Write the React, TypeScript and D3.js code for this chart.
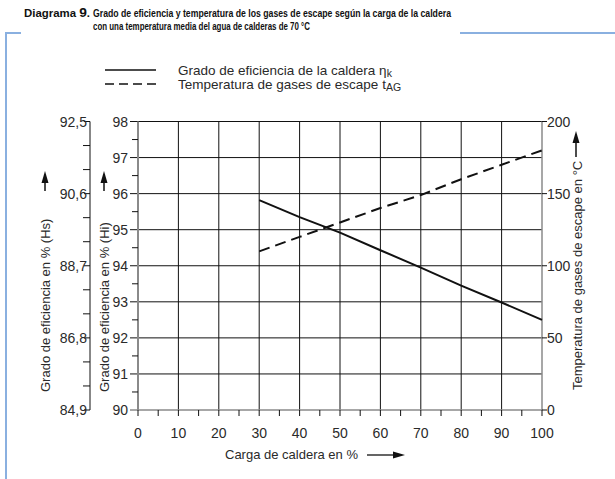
import React from "react";
import * as d3 from "d3";

const loadTicks = [0, 10, 20, 30, 40, 50, 60, 70, 80, 90, 100];
const hiTicks = [90, 91, 92, 93, 94, 95, 96, 97, 98];
const hsTickLabels = ["84,9", "86,8", "88,7", "90,6", "92,5"];
const hsTickValues = [84.9, 86.8, 88.7, 90.6, 92.5];
const tempTicks = [0, 50, 100, 150, 200];

const loads = [30, 40, 50, 60, 70, 80, 90, 100];
const efficiency = [95.82, 95.35, 94.92, 94.43, 93.95, 93.45, 92.98, 92.5];
const gasTemp = [110, 120, 130, 140, 149, 160, 170, 180];

const titleLine1a = "Diagrama 9.";
const titleLine1b = "Grado de eficiencia y temperatura de los gases de escape según la carga de la caldera";
const titleLine2 = "con una temperatura media del agua de calderas de 70 °C";

export default function App() {
  const W = 615, H = 479;
  const x0 = 138, x1 = 542, yTop = 121.5, yBot = 410;
  const x = d3.scaleLinear().domain([0, 100]).range([x0, x1]);
  const yHi = d3.scaleLinear().domain([90, 98]).range([yBot, yTop]);
  const yHs = d3.scaleLinear().domain([84.9, 92.5]).range([yBot, yTop]);
  const yT = d3.scaleLinear().domain([0, 200]).range([yBot, yTop]);

  const effLine = d3.line<number>().x((d, i) => x(loads[i])).y((d) => yHi(d))(efficiency) || "";
  const tempLine = d3.line<number>().x((d, i) => x(loads[i])).y((d) => yT(d))(gasTemp) || "";

  const font = "'Liberation Sans', Arial, Helvetica, sans-serif";
  const txt = "#2a2a2a";
  const frame = "#8ab0e0";
  const axisGrey = "#8a8a8a";

  const minorX = d3.range(5, 100, 10);
  const minorHi = d3.range(90.5, 98, 1);
  const hsStep = 1.9 / 3;
  const hsMinor = d3.range(0, 13).map((k) => 84.9 + k * hsStep).filter((_, k) => k % 3 !== 0);

  const axOuter = 90;
  const tickFs = 14;

  return (
    <svg width={W} height={H} style={{ position: "absolute", left: 0, top: 0, background: "#fff" }} fontFamily={font}>
      {/* frame */}
      <path d={`M21,33 H6 V479`} fill="none" stroke={frame} strokeWidth={2} />
      <path d={`M460,33 H615`} fill="none" stroke={frame} strokeWidth={2} />

      {/* title */}
      <text x={24} y={17} fontSize={10} fontWeight="bold" fill="#111" textLength={66} lengthAdjust="spacingAndGlyphs">
        Diagrama <tspan fontSize={12}>9</tspan>.
      </text>
      <text x={93} y={17} fontSize={10} fontWeight="bold" fill="#111" textLength={358} lengthAdjust="spacingAndGlyphs">
        {titleLine1b}
      </text>
      <text x={93} y={30} fontSize={10} fontWeight="bold" fill="#111" textLength={217} lengthAdjust="spacingAndGlyphs">
        {titleLine2}
      </text>

      {/* legend */}
      <line x1={105} x2={156} y1={70} y2={70} stroke="#111" strokeWidth={1.3} />
      <line x1={105} x2={156} y1={84} y2={84} stroke="#111" strokeWidth={1.3} strokeDasharray="9,5" />
      <text x={178} y={75} fontSize={13.5} fill={txt}>
        Grado de eficiencia de la caldera η<tspan fontSize={10.5} dy={2}>k</tspan>
      </text>
      <text x={178} y={89} fontSize={13.5} fill={txt}>
        Temperatura de gases de escape t<tspan fontSize={10.5} dy={2}>AG</tspan>
      </text>

      {/* grid */}
      {loadTicks.slice(1, -1).map((t) => (
        <line key={"gx" + t} x1={x(t)} x2={x(t)} y1={yTop} y2={yBot} stroke="#111" strokeWidth={1} />
      ))}
      {hiTicks.slice(1).map((t) => (
        <line key={"gy" + t} x1={x0 - 8} x2={x1} y1={yHi(t)} y2={yHi(t)} stroke="#111" strokeWidth={1} />
      ))}
      {/* plot frame left/bottom/right */}
      <line x1={x0} x2={x0} y1={yTop} y2={yBot} stroke={axisGrey} strokeWidth={2} />
      <line x1={x0 - 8} x2={x1} y1={yBot} y2={yBot} stroke={axisGrey} strokeWidth={1.5} />
      <line x1={x1} x2={x1} y1={yTop} y2={yBot} stroke={axisGrey} strokeWidth={1.5} />

      {/* inner left axis */}
      {minorHi.map((t) => (
        <line key={"mh" + t} x1={x0 - 6} x2={x0} y1={yHi(t)} y2={yHi(t)} stroke="#111" strokeWidth={1} />
      ))}
      {hiTicks.map((t) => (
        <text key={"lh" + t} x={x0 - 10} y={yHi(t) + 5} fontSize={tickFs} fill={txt} textAnchor="end">
          {t}
        </text>
      ))}

      {/* outer left axis */}
      <line x1={axOuter} x2={axOuter} y1={yTop} y2={yBot} stroke="#111" strokeWidth={1} />
      {hsTickValues.map((t) => (
        <line key={"hs" + t} x1={axOuter - 6} x2={axOuter} y1={yHs(t)} y2={yHs(t)} stroke="#111" strokeWidth={1} />
      ))}
      {hsMinor.map((t) => (
        <line key={"hsm" + t} x1={axOuter - 7} x2={axOuter} y1={yHs(t)} y2={yHs(t)} stroke="#111" strokeWidth={1} />
      ))}
      {hsTickValues.map((t, i) => (
        <text key={"hsl" + t} x={axOuter - 3} y={yHs(t) + 5} fontSize={tickFs} fill={txt} textAnchor="end">
          {hsTickLabels[i]}
        </text>
      ))}

      {/* bottom axis */}
      {loadTicks.map((t) => (
        <line key={"tx" + t} x1={x(t)} x2={x(t)} y1={yBot} y2={yBot + 6} stroke="#111" strokeWidth={1} />
      ))}
      {minorX.map((t) => (
        <line key={"mx" + t} x1={x(t)} x2={x(t)} y1={yBot} y2={yBot + 6} stroke="#111" strokeWidth={1} />
      ))}
      {loadTicks.map((t) => (
        <text key={"lx" + t} x={x(t)} y={438} fontSize={tickFs} fill={txt} textAnchor="middle">
          {t}
        </text>
      ))}
      <text x={225} y={459} fontSize={13} fill={txt}>
        Carga de caldera en %
      </text>
      <line x1={367} x2={396} y1={455} y2={455} stroke="#111" strokeWidth={1.3} />
      <path d="M393,451.5 L405,455 L393,458.5 Z" fill="#111" />

      {/* right axis */}
      {tempTicks.map((t) => (
        <line key={"rt" + t} x1={x1} x2={x1 + 5} y1={yT(t)} y2={yT(t)} stroke="#111" strokeWidth={1} />
      ))}
      {tempTicks.map((t) => (
        <text key={"rl" + t} x={x1 + 5} y={yT(t) + 5} fontSize={tickFs} fill={txt} textAnchor="start">
          {t}
        </text>
      ))}

      {/* left titles */}
      <text transform="translate(50,392) rotate(-90)" fontSize={13} fill={txt}>
        Grado de eficiencia en % (Hs)
      </text>
      <line x1={45} x2={45} y1={191} y2={180} stroke="#111" strokeWidth={1.5} />
      <path d="M41.5,183 L45,171 L48.5,183 Z" fill="#111" />
      <text transform="translate(109,392) rotate(-90)" fontSize={13} fill={txt}>
        Grado de eficiencia en % (Hi)
      </text>
      <line x1={104} x2={104} y1={191} y2={180} stroke="#111" strokeWidth={1.5} />
      <path d="M100.5,183 L104,171 L107.5,183 Z" fill="#111" />

      {/* right title */}
      <text transform="translate(582,390) rotate(-90)" fontSize={13} fill={txt}>
        Temperatura de gases de escape en °C
      </text>
      <line x1={576} x2={576} y1={157} y2={140} stroke="#111" strokeWidth={1.5} />
      <path d="M572.5,143 L576,131 L579.5,143 Z" fill="#111" />

      {/* data lines */}
      <path d={effLine} fill="none" stroke="#111" strokeWidth={2} />
      <path d={tempLine} fill="none" stroke="#111" strokeWidth={2} strokeDasharray="11,6" />
    </svg>
  );
}
